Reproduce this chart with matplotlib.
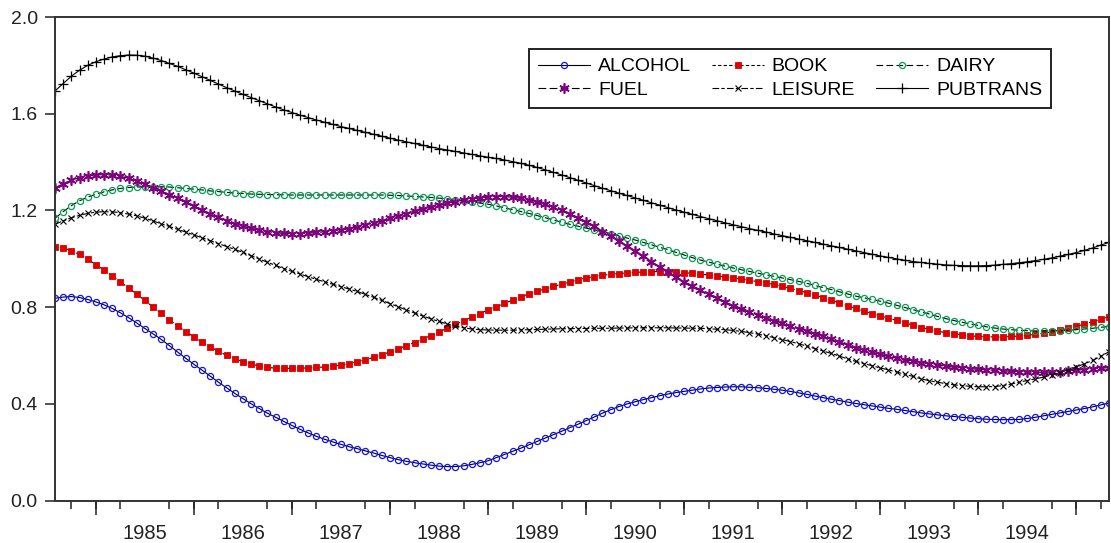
import numpy as np
import pandas as pd
import matplotlib
matplotlib.use("Agg")
import matplotlib.pyplot as plt

plt.rcParams['font.family'] = ['Liberation Sans', 'DejaVu Sans']

# Monthly observations, Aug 1984 .. May 1995
dates = pd.date_range("1984-08-01", "1995-05-01", freq="MS")

alcohol = [0.837, 0.842, 0.844, 0.840, 0.832, 0.822, 0.810, 0.795, 0.777, 0.757,
           0.735, 0.712, 0.690, 0.667, 0.641, 0.615, 0.589, 0.564, 0.540, 0.515,
           0.490, 0.467, 0.444, 0.422, 0.401, 0.381, 0.362, 0.345, 0.328, 0.311,
           0.295, 0.280, 0.266, 0.254, 0.243, 0.233, 0.223, 0.215, 0.206, 0.197,
           0.187, 0.178, 0.170, 0.163, 0.157, 0.152, 0.147, 0.143, 0.141, 0.141,
           0.144, 0.150, 0.157, 0.165, 0.178, 0.191, 0.204, 0.217, 0.231, 0.245,
           0.259, 0.273, 0.287, 0.302, 0.316, 0.331, 0.346, 0.362, 0.376, 0.389,
           0.400, 0.409, 0.418, 0.426, 0.434, 0.441, 0.447, 0.452, 0.457, 0.462,
           0.466, 0.468, 0.470, 0.471, 0.471, 0.469, 0.467, 0.464, 0.461, 0.457,
           0.452, 0.446, 0.440, 0.433, 0.426, 0.420, 0.414, 0.408, 0.402, 0.397,
           0.392, 0.387, 0.382, 0.378, 0.373, 0.368, 0.363, 0.359, 0.355, 0.351,
           0.348, 0.345, 0.342, 0.339, 0.337, 0.336, 0.335, 0.335, 0.336, 0.340,
           0.345, 0.351, 0.357, 0.363, 0.369, 0.375, 0.381, 0.388, 0.396, 0.404]

book = [1.050, 1.045, 1.034, 1.018, 0.998, 0.976, 0.953, 0.930, 0.905, 0.880,
        0.854, 0.828, 0.801, 0.775, 0.749, 0.723, 0.699, 0.677, 0.656, 0.636,
        0.618, 0.601, 0.587, 0.575, 0.565, 0.557, 0.551, 0.548, 0.547, 0.547,
        0.548, 0.549, 0.551, 0.553, 0.556, 0.561, 0.567, 0.575, 0.583, 0.593,
        0.604, 0.615, 0.628, 0.641, 0.654, 0.668, 0.683, 0.698, 0.713, 0.729,
        0.744, 0.759, 0.774, 0.789, 0.802, 0.816, 0.829, 0.843, 0.855, 0.866,
        0.876, 0.886, 0.895, 0.904, 0.913, 0.921, 0.927, 0.932, 0.936, 0.939,
        0.942, 0.944, 0.946, 0.947, 0.947, 0.947, 0.945, 0.943, 0.940, 0.937,
        0.933, 0.929, 0.925, 0.921, 0.916, 0.911, 0.906, 0.900, 0.894, 0.886,
        0.878, 0.869, 0.860, 0.850, 0.840, 0.829, 0.818, 0.806, 0.795, 0.784,
        0.774, 0.764, 0.755, 0.746, 0.736, 0.726, 0.716, 0.708, 0.701, 0.695,
        0.690, 0.686, 0.682, 0.679, 0.678, 0.677, 0.677, 0.679, 0.681, 0.684,
        0.688, 0.692, 0.698, 0.705, 0.713, 0.721, 0.730, 0.740, 0.750, 0.761]

dairy = [1.168, 1.195, 1.220, 1.240, 1.255, 1.267, 1.277, 1.285, 1.291, 1.295,
         1.297, 1.298, 1.298, 1.298, 1.297, 1.294, 1.291, 1.288, 1.285, 1.281,
         1.278, 1.275, 1.272, 1.270, 1.268, 1.267, 1.266, 1.265, 1.265, 1.264,
         1.264, 1.264, 1.264, 1.264, 1.264, 1.264, 1.264, 1.264, 1.264, 1.264,
         1.264, 1.263, 1.262, 1.260, 1.258, 1.256, 1.254, 1.251, 1.248, 1.245,
         1.241, 1.236, 1.231, 1.226, 1.219, 1.211, 1.203, 1.196, 1.188, 1.179,
         1.170, 1.161, 1.152, 1.143, 1.135, 1.127, 1.120, 1.113, 1.104, 1.095,
         1.086, 1.078, 1.068, 1.058, 1.048, 1.038, 1.027, 1.016, 1.005, 0.995,
         0.987, 0.978, 0.970, 0.962, 0.955, 0.948, 0.941, 0.934, 0.928, 0.921,
         0.914, 0.907, 0.899, 0.890, 0.881, 0.873, 0.864, 0.855, 0.846, 0.839,
         0.832, 0.825, 0.817, 0.808, 0.799, 0.790, 0.781, 0.772, 0.762, 0.753,
         0.745, 0.738, 0.731, 0.725, 0.719, 0.714, 0.710, 0.707, 0.705, 0.703,
         0.702, 0.702, 0.702, 0.703, 0.705, 0.707, 0.710, 0.713, 0.717, 0.720]

fuel = [1.294, 1.310, 1.325, 1.336, 1.343, 1.347, 1.348, 1.346, 1.341, 1.333,
        1.322, 1.309, 1.294, 1.280, 1.266, 1.250, 1.234, 1.218, 1.202, 1.187,
        1.172, 1.158, 1.145, 1.135, 1.126, 1.119, 1.113, 1.108, 1.105, 1.104,
        1.104, 1.106, 1.109, 1.112, 1.115, 1.119, 1.125, 1.132, 1.140, 1.149,
        1.158, 1.167, 1.177, 1.187, 1.197, 1.205, 1.213, 1.221, 1.229, 1.237,
        1.243, 1.248, 1.252, 1.256, 1.257, 1.257, 1.255, 1.250, 1.244, 1.236,
        1.226, 1.214, 1.201, 1.186, 1.170, 1.153, 1.135, 1.113, 1.093, 1.073,
        1.053, 1.033, 1.011, 0.989, 0.967, 0.945, 0.925, 0.906, 0.887, 0.870,
        0.853, 0.837, 0.822, 0.807, 0.794, 0.781, 0.769, 0.756, 0.745, 0.734,
        0.723, 0.712, 0.702, 0.691, 0.680, 0.668, 0.657, 0.645, 0.633, 0.623,
        0.614, 0.605, 0.597, 0.589, 0.583, 0.577, 0.571, 0.566, 0.561, 0.556,
        0.552, 0.549, 0.546, 0.543, 0.541, 0.539, 0.537, 0.535, 0.533, 0.532,
        0.531, 0.531, 0.532, 0.534, 0.537, 0.540, 0.542, 0.545, 0.548, 0.550]

leisure = [1.143, 1.157, 1.170, 1.180, 1.188, 1.193, 1.195, 1.194, 1.191, 1.185,
           1.178, 1.168, 1.157, 1.145, 1.134, 1.122, 1.111, 1.099, 1.087, 1.075,
           1.063, 1.051, 1.039, 1.027, 1.013, 0.999, 0.986, 0.973, 0.960, 0.948,
           0.937, 0.926, 0.915, 0.905, 0.895, 0.885, 0.875, 0.865, 0.853, 0.841,
           0.828, 0.815, 0.802, 0.789, 0.776, 0.764, 0.752, 0.741, 0.731, 0.722,
           0.715, 0.710, 0.707, 0.706, 0.705, 0.705, 0.705, 0.706, 0.707, 0.708,
           0.709, 0.710, 0.711, 0.711, 0.712, 0.712, 0.713, 0.713, 0.713, 0.714,
           0.714, 0.715, 0.715, 0.715, 0.715, 0.715, 0.714, 0.714, 0.713, 0.713,
           0.711, 0.709, 0.707, 0.704, 0.700, 0.695, 0.689, 0.682, 0.674, 0.666,
           0.658, 0.649, 0.639, 0.629, 0.619, 0.609, 0.598, 0.586, 0.576, 0.567,
           0.558, 0.549, 0.541, 0.532, 0.523, 0.514, 0.504, 0.496, 0.490, 0.484,
           0.479, 0.476, 0.473, 0.471, 0.471, 0.472, 0.476, 0.482, 0.490, 0.497,
           0.504, 0.511, 0.520, 0.530, 0.541, 0.553, 0.566, 0.580, 0.597, 0.616]

pubtrans = [1.694, 1.725, 1.755, 1.780, 1.800, 1.815, 1.826, 1.835, 1.840, 1.843,
            1.842, 1.838, 1.830, 1.820, 1.808, 1.796, 1.782, 1.768, 1.753, 1.738,
            1.723, 1.708, 1.694, 1.680, 1.667, 1.654, 1.641, 1.628, 1.616, 1.605,
            1.594, 1.584, 1.574, 1.565, 1.556, 1.547, 1.539, 1.531, 1.523, 1.515,
            1.507, 1.499, 1.491, 1.484, 1.477, 1.470, 1.463, 1.456, 1.450, 1.444,
            1.438, 1.432, 1.426, 1.420, 1.415, 1.409, 1.402, 1.395, 1.387, 1.378,
            1.368, 1.358, 1.347, 1.336, 1.325, 1.314, 1.303, 1.292, 1.282, 1.272,
            1.262, 1.252, 1.242, 1.232, 1.222, 1.212, 1.202, 1.193, 1.184, 1.175,
            1.166, 1.158, 1.149, 1.141, 1.133, 1.125, 1.118, 1.111, 1.103, 1.096,
            1.089, 1.082, 1.075, 1.068, 1.061, 1.054, 1.047, 1.040, 1.033, 1.026,
            1.019, 1.012, 1.006, 1.000, 0.994, 0.989, 0.985, 0.981, 0.978, 0.975,
            0.973, 0.972, 0.971, 0.971, 0.972, 0.974, 0.977, 0.980, 0.984, 0.988,
            0.993, 0.998, 1.004, 1.011, 1.018, 1.026, 1.035, 1.045, 1.057, 1.068]

year_labels = ["1985", "1986", "1987", "1988", "1989",
               "1990", "1991", "1992", "1993", "1994"]
y_ticks = [0.0, 0.4, 0.8, 1.2, 1.6, 2.0]

# decimal-year positions of the monthly observations
t = dates.year + (dates.month - 1) / 12.0

fig = plt.figure(figsize=(11.11, 5.43), dpi=100)
ax = fig.add_axes([55 / 1111, 1 - 500.7 / 543, (1109 - 55) / 1111, (500.7 - 17) / 543])

series = [
    ("ALCOHOL", alcohol, dict(marker='o', ms=4.4, mfc='none', mec='#1010ff', mew=0.9), '-'),
    ("BOOK", book, dict(marker='s', ms=4.2, mfc='#e00000', mec='#e00000', mew=0.6), (0, (3, 2))),
    ("DAIRY", dairy, dict(marker='o', ms=4.4, mfc='none', mec='#00a050', mew=0.9), (0, (6, 3))),
    ("FUEL", fuel, dict(marker=(6, 2, 0), ms=7.5, mfc='#800080', mec='#800080', mew=1.2), (0, (7, 3))),
    ("LEISURE", leisure, dict(marker='x', ms=4.8, mfc='#000000', mec='#000000', mew=0.8), (0, (6, 2, 3, 2))),
    ("PUBTRANS", pubtrans, dict(marker='+', ms=7.5, mfc='#000000', mec='#000000', mew=0.9), '-'),
]

handles = {}
for name, vals, mk, ls in series:
    h, = ax.plot(t, vals, color='black', lw=0.8, ls=ls, label=name, **mk)
    handles[name] = h

ax.set_xlim(1984 + 7 / 12, 1995 + 4 / 12)
ax.set_ylim(0, 2.0)

# y axis
ax.set_yticks(y_ticks)
ax.set_yticklabels([f"{v:.1f}" for v in y_ticks])
ax.tick_params(axis='y', direction='out', length=7.5, width=1.1, pad=5,
               labelsize=14, colors='#222222')

# x axis: labels centred mid-year, quarterly minor ticks, longer year ticks
years = np.arange(1985, 1995)
ax.set_xticks(years + 0.5)
ax.set_xticklabels(year_labels)
ax.tick_params(axis='x', which='major', length=0, pad=17, labelsize=14.5,
               colors='#222222')
quarters = np.arange(1984.75, 1995.3, 0.25)
ax.set_xticks(quarters, minor=True)
ax.tick_params(axis='x', which='minor', direction='out', length=6, width=1.1,
               color='#222222')
sec = ax.secondary_xaxis('bottom')
sec.set_xticks(np.arange(1985, 1996))
sec.tick_params(axis='x', direction='out', length=10, width=1.1,
                labelbottom=False, color='#222222')
sec.spines['bottom'].set_visible(False)

for sp in ax.spines.values():
    sp.set_linewidth(1.4)
    sp.set_color('#333333')

order = ["ALCOHOL", "FUEL", "BOOK", "LEISURE", "DAIRY", "PUBTRANS"]
leg = ax.legend([handles[n] for n in order], order, ncol=3,
                loc='upper left', bbox_to_anchor=(529 / 1111, 1 - 49 / 543),
                bbox_transform=fig.transFigure, borderaxespad=0,
                fontsize=14, frameon=True, fancybox=False, framealpha=1,
                edgecolor='#222222', handlelength=2.7, handletextpad=0.4,
                columnspacing=1.05, labelspacing=0.3, borderpad=0.45,
                numpoints=1)
leg.get_frame().set_linewidth(1.4)

fig.savefig("out.png", dpi=100, facecolor='white')
